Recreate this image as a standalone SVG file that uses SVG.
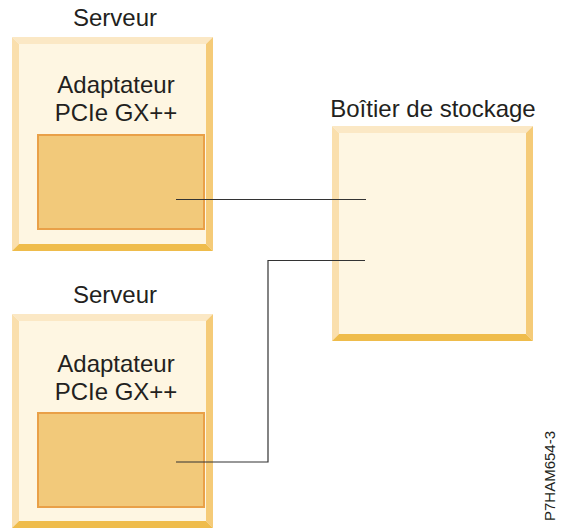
<svg xmlns="http://www.w3.org/2000/svg" width="561" height="529" viewBox="0 0 561 529">
<style>
.t{font-family:"Liberation Sans",Arial,sans-serif;font-size:24px;fill:#231f20;text-anchor:middle}
.top{fill:#fbe8c5}.left{fill:#fadfad}.right{fill:#f5cb78}.bot{fill:#efbc4b}.face{fill:#fef6e2}
.adp{fill:#f2c97a;stroke:#e9a048;stroke-width:2}
.wire{fill:none;stroke:#333;stroke-width:1.2}
</style>
<rect width="561" height="529" fill="#fff"/>
<g id="serveur1">
<text class="t" x="115" y="26">Serveur</text>
<polygon class="top" points="12,37 213,37 206,44 19,44"/>
<polygon class="left" points="12,37 19,44 19,244 12,251"/>
<polygon class="right" points="213,37 213,251 206,244 206,44"/>
<polygon class="bot" points="12,251 19,244 206,244 213,251"/>
<rect class="face" x="19" y="44" width="187" height="200"/>
<text class="t" x="116" y="93">Adaptateur</text>
<text class="t" x="116" y="121">PCIe GX++</text>
<rect id="adaptateur1" class="adp" x="38" y="135" width="166" height="94"/>
</g>
<g id="boitier">
<text class="t" x="433" y="117">Boîtier de stockage</text>
<polygon class="top" points="332,126 533,126 526,133 339,133"/>
<polygon class="left" points="332,126 339,133 339,334 332,341"/>
<polygon class="right" points="533,126 533,341 526,334 526,133"/>
<polygon class="bot" points="332,341 339,334 526,334 533,341"/>
<rect class="face" x="339" y="133" width="187" height="201"/>
</g>
<g id="serveur2">
<text class="t" x="115" y="303">Serveur</text>
<polygon class="top" points="12,314 213,314 206,321 19,321"/>
<polygon class="left" points="12,314 19,321 19,521 12,528"/>
<polygon class="right" points="213,314 213,528 206,521 206,321"/>
<polygon class="bot" points="12,528 19,521 206,521 213,528"/>
<rect class="face" x="19" y="321" width="187" height="200"/>
<text class="t" x="116" y="372">Adaptateur</text>
<text class="t" x="116" y="400">PCIe GX++</text>
<rect id="adaptateur2" class="adp" x="38" y="413" width="166" height="94"/>
</g>
<g id="connecteurs">
<polyline class="wire" points="176,199.5 366,199.5"/>
<polyline class="wire" points="176,462 268,462 268,260.5 365,260.5"/>
</g>
<text x="555" y="476" transform="rotate(-90 555 476)" style="font-family:'Liberation Sans',Arial,sans-serif;font-size:15px;fill:#231f20;text-anchor:middle">P7HAM654-3</text>
</svg>
